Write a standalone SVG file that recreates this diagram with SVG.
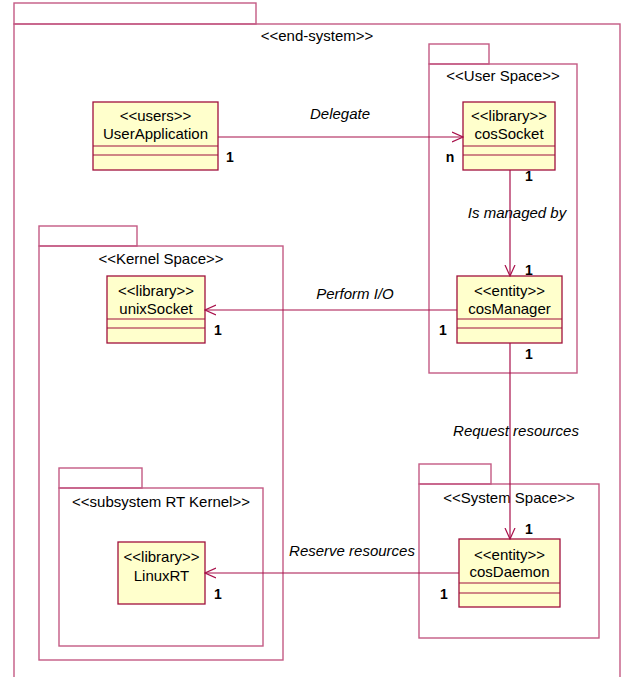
<svg xmlns="http://www.w3.org/2000/svg" width="622" height="677" viewBox="0 0 622 677">
<style>
text{font-family:"Liberation Sans",Arial,sans-serif;font-size:15px;fill:#000;text-anchor:middle}
.pkg{fill:none;stroke:#c45a84;stroke-width:1.4}
.cls{fill:#ffffcc;stroke:#a0103c;stroke-width:1.3}
.sep{stroke:#a0103c;stroke-width:1.2}
.con{fill:none;stroke:#a8104a;stroke-width:1.2}
.lbl{font-style:italic}
.mul{font-weight:bold;font-size:14px}
</style>
<defs>
<marker id="open" viewBox="0 0 12 12" refX="11" refY="6" markerWidth="12" markerHeight="12" markerUnits="userSpaceOnUse" orient="auto">
<path d="M0,1 L11,6 L0,11" fill="none" stroke="#a8104a" stroke-width="1.2"/>
</marker>
</defs>
<rect width="622" height="677" fill="#fff"/>
<g id="end-system">
<rect class="pkg" x="14" y="3" width="242" height="21"/>
<rect class="pkg" x="14" y="24" width="606" height="680"/>
<text x="317" y="41">&lt;&lt;end-system&gt;&gt;</text>
</g>
<g id="user-space">
<rect class="pkg" x="429" y="44" width="60" height="20"/>
<rect class="pkg" x="429" y="64" width="148" height="309"/>
<text x="503" y="81">&lt;&lt;User Space&gt;&gt;</text>
</g>
<g id="kernel-space">
<rect class="pkg" x="39" y="226" width="98" height="20"/>
<rect class="pkg" x="39" y="246" width="244" height="414"/>
<text x="161" y="264">&lt;&lt;Kernel Space&gt;&gt;</text>
</g>
<g id="rt-kernel">
<rect class="pkg" x="59" y="468" width="83" height="20"/>
<rect class="pkg" x="59" y="488" width="204" height="158"/>
<text x="161" y="507">&lt;&lt;subsystem RT Kernel&gt;&gt;</text>
</g>
<g id="system-space">
<rect class="pkg" x="419" y="464" width="72" height="20"/>
<rect class="pkg" x="419" y="484" width="180" height="154"/>
<text x="509" y="503">&lt;&lt;System Space&gt;&gt;</text>
</g>
<g id="UserApplication">
<rect class="cls" x="93" y="102" width="125" height="68"/>
<line class="sep" x1="93" y1="146" x2="218" y2="146"/>
<line class="sep" x1="93" y1="155" x2="218" y2="155"/>
<text x="155.5" y="121">&lt;&lt;users&gt;&gt;</text>
<text x="155.5" y="139">UserApplication</text>
</g>
<g id="cosSocket">
<rect class="cls" x="463" y="102" width="92" height="68"/>
<line class="sep" x1="463" y1="146" x2="555" y2="146"/>
<line class="sep" x1="463" y1="155" x2="555" y2="155"/>
<text x="509" y="121">&lt;&lt;library&gt;&gt;</text>
<text x="509" y="139">cosSocket</text>
</g>
<g id="cosManager">
<rect class="cls" x="457" y="276" width="105" height="67"/>
<line class="sep" x1="457" y1="319" x2="562" y2="319"/>
<line class="sep" x1="457" y1="328" x2="562" y2="328"/>
<text x="509.5" y="296">&lt;&lt;entity&gt;&gt;</text>
<text x="509.5" y="314">cosManager</text>
</g>
<g id="unixSocket">
<rect class="cls" x="107" y="276" width="98" height="67"/>
<line class="sep" x1="107" y1="319" x2="205" y2="319"/>
<line class="sep" x1="107" y1="328" x2="205" y2="328"/>
<text x="156" y="296">&lt;&lt;library&gt;&gt;</text>
<text x="156" y="314">unixSocket</text>
</g>
<g id="LinuxRT">
<rect class="cls" x="118" y="542" width="87" height="62"/>
<text x="161.5" y="562">&lt;&lt;library&gt;&gt;</text>
<text x="161.5" y="581">LinuxRT</text>
</g>
<g id="cosDaemon">
<rect class="cls" x="459" y="539" width="101" height="68"/>
<line class="sep" x1="459" y1="583" x2="560" y2="583"/>
<line class="sep" x1="459" y1="593" x2="560" y2="593"/>
<text x="509.5" y="560">&lt;&lt;entity&gt;&gt;</text>
<text x="509.5" y="577">cosDaemon</text>
</g>
<g id="connectors">
<line class="con" x1="218" y1="137" x2="463" y2="137" marker-end="url(#open)"/>
<text class="lbl" x="340" y="119">Delegate</text>
<text class="mul" x="230" y="162">1</text>
<text class="mul" x="450" y="162">n</text>
<line class="con" x1="510" y1="170" x2="510" y2="276" marker-end="url(#open)"/>
<text class="lbl" x="517" y="218">Is managed by</text>
<text class="mul" x="529" y="181">1</text>
<text class="mul" x="529" y="275">1</text>
<line class="con" x1="457" y1="310" x2="205" y2="310" marker-end="url(#open)"/>
<text class="lbl" x="355" y="299">Perform I/O</text>
<text class="mul" x="218" y="335">1</text>
<text class="mul" x="443" y="335">1</text>
<line class="con" x1="510" y1="343" x2="510" y2="539" marker-end="url(#open)"/>
<text class="lbl" x="516" y="436">Request resources</text>
<text class="mul" x="529" y="359">1</text>
<text class="mul" x="529" y="534">1</text>
<line class="con" x1="459" y1="573" x2="205" y2="573" marker-end="url(#open)"/>
<text class="lbl" x="352" y="556">Reserve resources</text>
<text class="mul" x="218" y="599">1</text>
<text class="mul" x="444" y="599">1</text>
</g>
</svg>
